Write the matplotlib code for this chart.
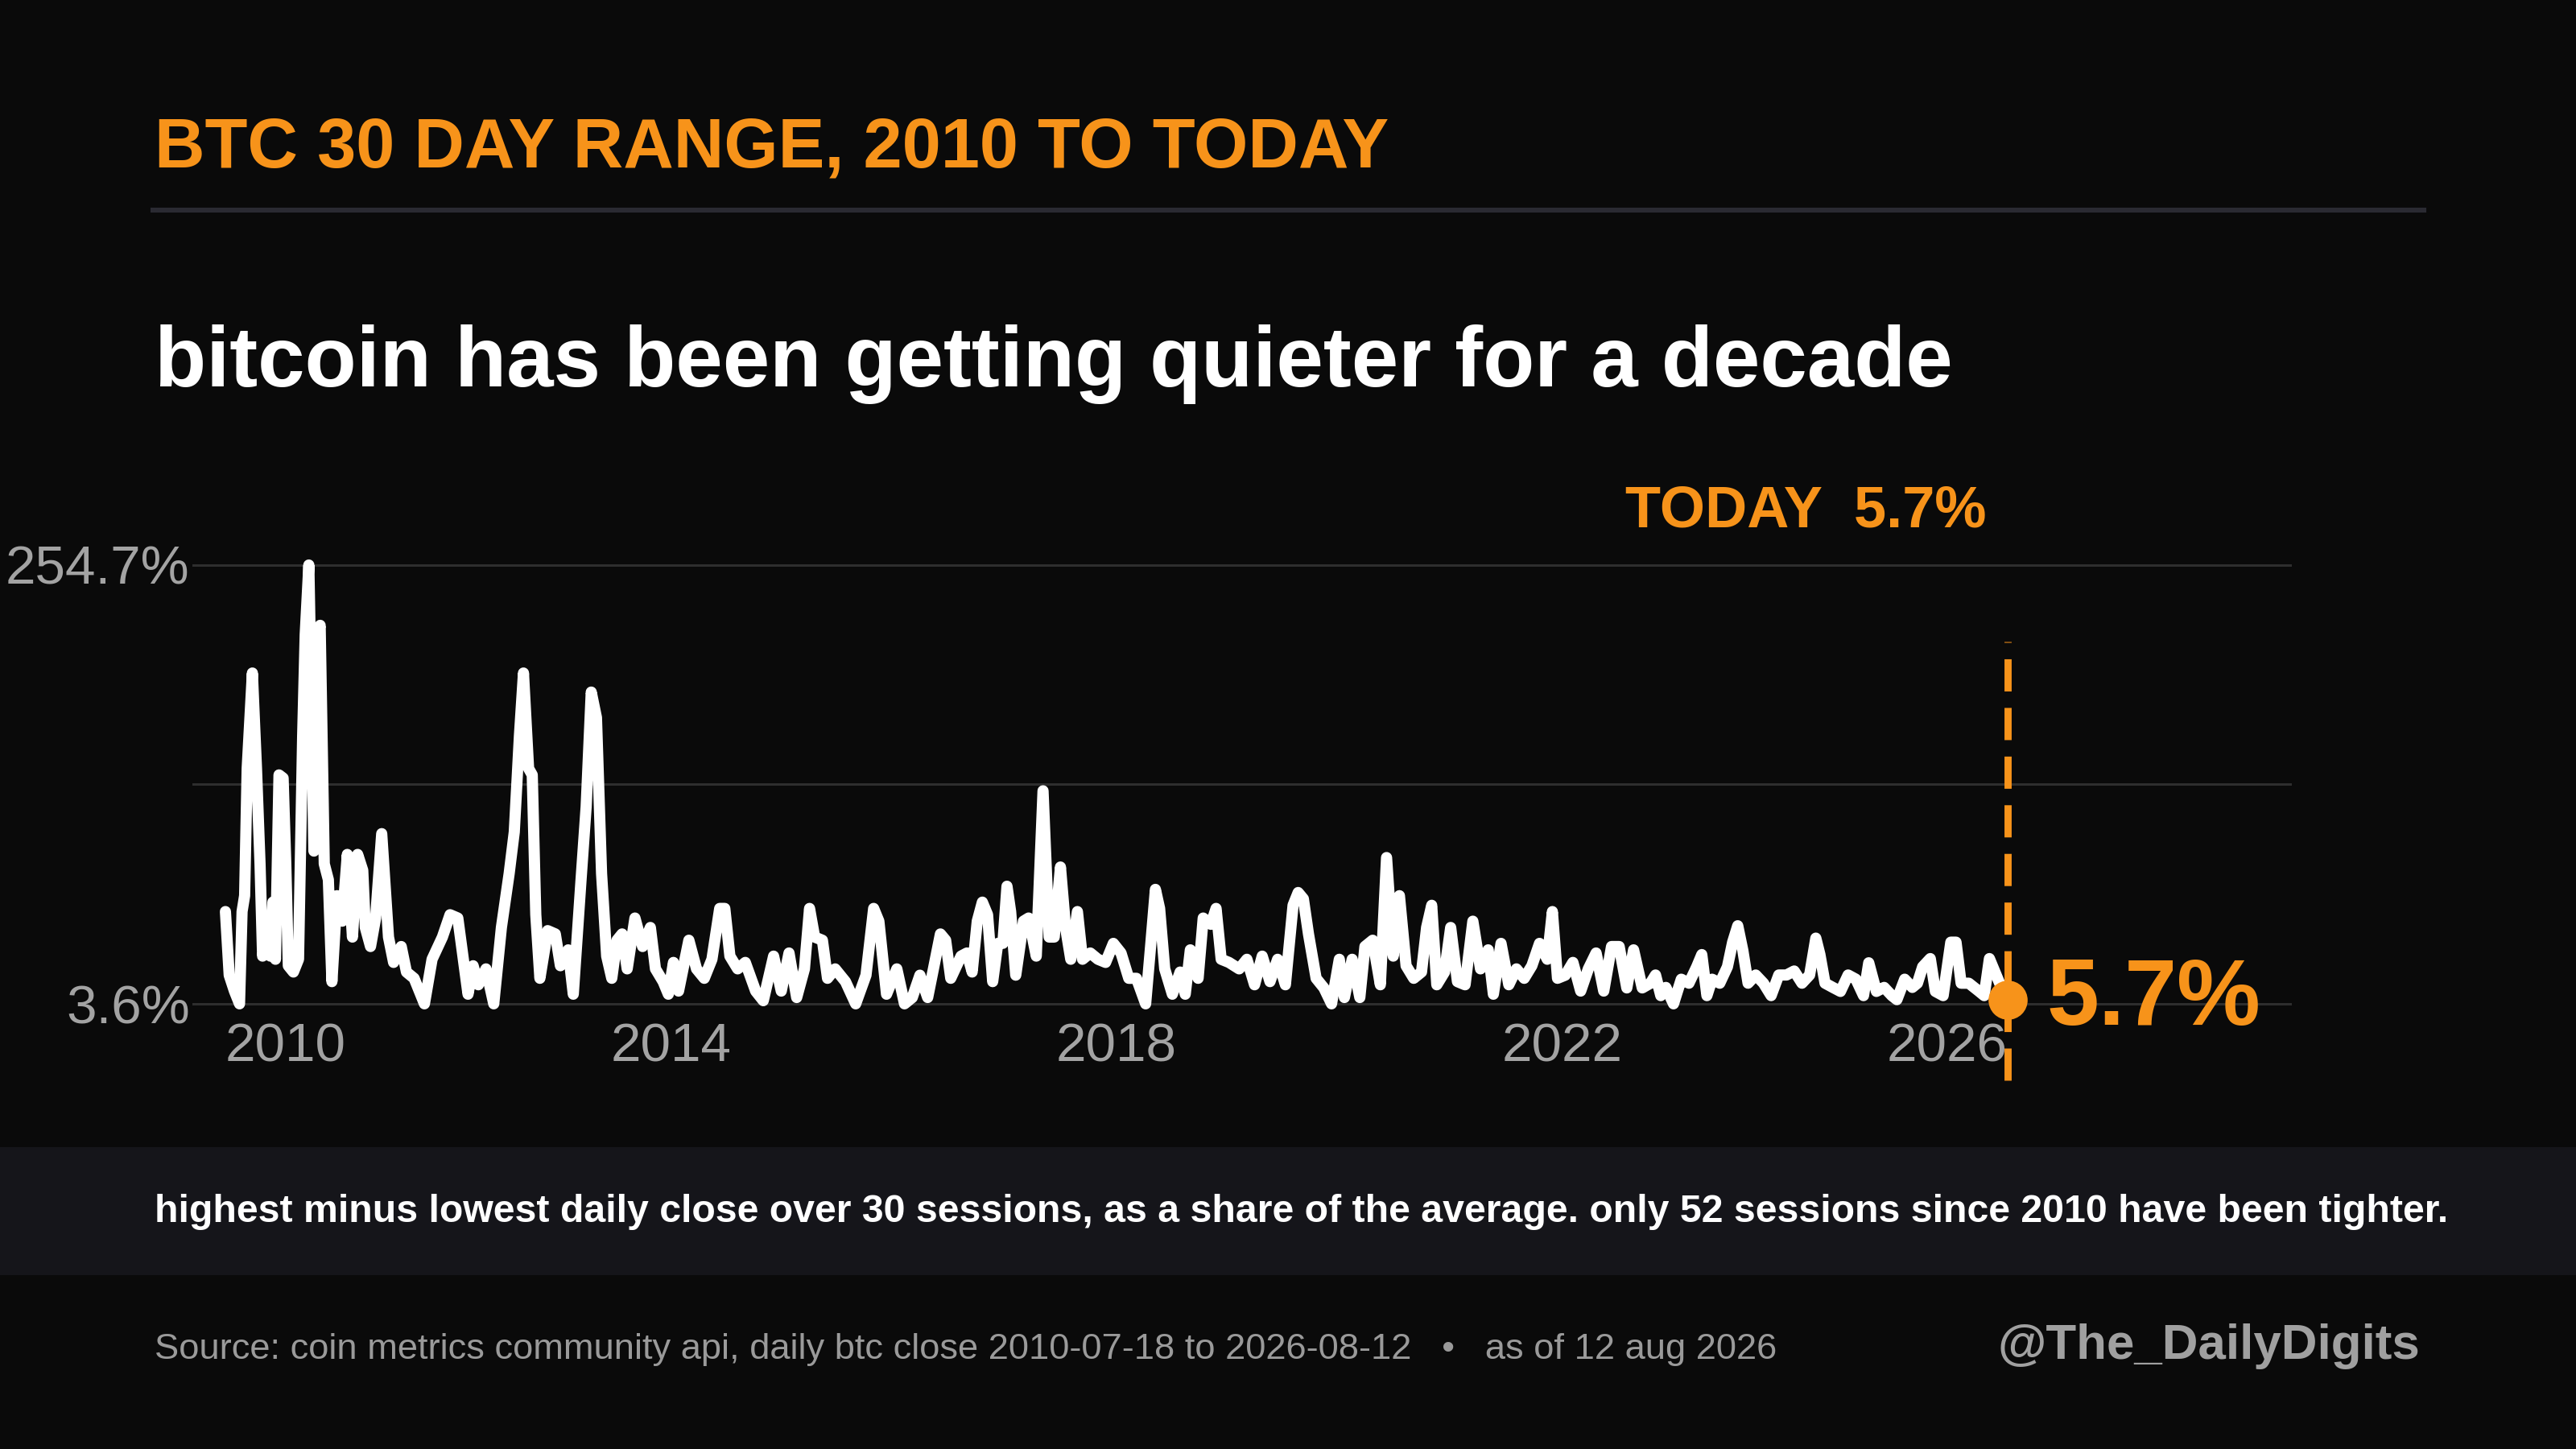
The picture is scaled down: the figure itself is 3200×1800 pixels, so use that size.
import numpy as np
import matplotlib
matplotlib.use("Agg")
import matplotlib.pyplot as plt
from matplotlib.patches import Rectangle

plt.rcParams['font.family'] = ['Liberation Sans', 'DejaVu Sans']

# 30 day range (% of average), x in decimal years
anios = [
    2010.543, 2010.577, 2010.624, 2010.670, 2010.693, 2010.716, 2010.739, 2010.786, 2010.823, 2010.855,
    2010.878, 2010.925, 2010.948, 2010.971, 2010.994, 2011.026, 2011.063, 2011.087, 2011.110, 2011.156,
    2011.202, 2011.239, 2011.262, 2011.295, 2011.318, 2011.341, 2011.364, 2011.397, 2011.434, 2011.471,
    2011.503, 2011.549, 2011.596, 2011.642, 2011.688, 2011.735, 2011.781, 2011.804, 2011.851, 2011.897,
    2011.952, 2012.013, 2012.059, 2012.128, 2012.175, 2012.244, 2012.337, 2012.406, 2012.499, 2012.568,
    2012.638, 2012.730, 2012.776, 2012.823, 2012.892, 2012.962, 2013.031, 2013.101, 2013.147, 2013.193,
    2013.230, 2013.276, 2013.309, 2013.341, 2013.378, 2013.448, 2013.517, 2013.563, 2013.633, 2013.679,
    2013.749, 2013.795, 2013.841, 2013.888, 2013.934, 2013.980, 2014.026, 2014.073, 2014.119, 2014.165,
    2014.235, 2014.304, 2014.374, 2014.420, 2014.489, 2014.536, 2014.582, 2014.628, 2014.721, 2014.790,
    2014.860, 2014.929, 2014.999, 2015.045, 2015.091, 2015.161, 2015.230, 2015.323, 2015.392, 2015.485,
    2015.554, 2015.624, 2015.693, 2015.763, 2015.809, 2015.855, 2015.925, 2015.971, 2016.040, 2016.133,
    2016.225, 2016.318, 2016.387, 2016.434, 2016.503, 2016.596, 2016.665, 2016.735, 2016.804, 2016.874,
    2016.920, 2016.989, 2017.036, 2017.082, 2017.175,
    2017.228, 2017.275, 2017.321, 2017.367, 2017.414, 2017.460, 2017.506, 2017.552, 2017.589, 2017.622,
    2017.668, 2017.738, 2017.784, 2017.853, 2017.914, 2017.969, 2018.015, 2018.071, 2018.117, 2018.164,
    2018.224, 2018.270, 2018.340, 2018.409, 2018.478, 2018.548, 2018.617, 2018.687, 2018.756, 2018.839,
    2018.886, 2018.927, 2018.965, 2019.011, 2019.080, 2019.150, 2019.196, 2019.242, 2019.312, 2019.358,
    2019.427, 2019.474, 2019.520, 2019.590, 2019.682, 2019.752, 2019.821, 2019.890, 2019.960, 2020.029,
    2020.099, 2020.168, 2020.214, 2020.261, 2020.307, 2020.376, 2020.446, 2020.515, 2020.585, 2020.631,
    2020.701, 2020.770, 2020.816, 2020.886, 2020.955, 2021.011, 2021.071, 2021.127, 2021.187, 2021.256,
    2021.326, 2021.372, 2021.418, 2021.464, 2021.534, 2021.589, 2021.650, 2021.719, 2021.789, 2021.858,
    2021.927, 2021.974, 2022.043, 2022.113, 2022.182, 2022.252, 2022.321, 2022.390, 2022.460, 2022.506,
    2022.552, 2022.622, 2022.691, 2022.761, 2022.830, 2022.900, 2022.969, 2023.039, 2023.108, 2023.177,
    2023.238, 2023.316,
    2023.390, 2023.436, 2023.483, 2023.529, 2023.598, 2023.668, 2023.737, 2023.807, 2023.853, 2023.899,
    2023.946, 2024.015, 2024.084, 2024.131, 2024.177, 2024.223, 2024.270, 2024.339, 2024.409, 2024.478,
    2024.547, 2024.617, 2024.686, 2024.756, 2024.825, 2024.881, 2024.918, 2024.964, 2025.034, 2025.103,
    2025.172, 2025.242, 2025.311, 2025.358, 2025.427, 2025.497, 2025.566, 2025.612, 2025.682, 2025.751,
    2025.797, 2025.844, 2025.913, 2025.959, 2026.029, 2026.098, 2026.145, 2026.191, 2026.260, 2026.353,
    2026.399, 2026.446, 2026.492, 2026.538, 2026.584, 2026.611,
]
rango_pct = [
    56.4, 20.0, 10.9, 3.6, 56.4, 65.5, 138.3, 192.9, 138.3, 83.7,
    30.9, 47.3, 30.9, 61.8, 29.1, 134.6, 132.8, 83.7, 25.4, 21.8,
    29.1, 156.5, 214.7, 254.7, 174.7, 91.0, 211.1, 220.2, 83.7, 74.6,
    16.3, 65.5, 50.9, 89.1, 41.8, 89.1, 80.0, 47.3, 36.4, 52.7,
    101.0, 41.8, 27.3, 36.4, 21.8, 18.2, 3.6, 29.1, 41.8, 54.6,
    52.7, 9.1, 25.4, 14.5, 23.6, 3.6, 47.3, 78.2, 101.9, 156.5,
    192.9, 138.3, 134.6, 54.6, 18.2, 45.5, 43.6, 25.4, 34.5, 9.1,
    74.6, 116.4, 182.0, 167.4, 78.2, 30.9, 18.2, 40.0, 43.6, 23.6,
    52.7, 36.4, 47.3, 23.6, 16.3, 9.1, 27.3, 10.9, 40.0, 23.6,
    18.2, 29.1, 58.2, 58.2, 30.9, 23.6, 27.3, 10.9, 5.4, 30.9,
    10.9, 32.7, 7.2, 23.6, 58.2, 41.8, 40.0, 18.2, 23.6, 16.3,
    3.6, 20.0, 58.2, 50.9, 9.1, 23.6, 3.6, 7.2, 20.0, 7.2,
    21.8, 43.6, 40.0, 18.2, 30.9,
    32.7, 21.8, 50.9, 61.8, 54.6, 16.3, 38.2, 38.2, 70.9, 56.4,
    20.0, 50.9, 52.7, 30.9, 125.5, 41.8, 41.8, 81.9, 47.3, 29.1,
    56.4, 29.1, 32.7, 29.1, 27.3, 38.2, 32.7, 18.2, 18.2, 3.6,
    38.2, 69.1, 58.2, 23.6, 9.1, 21.8, 9.1, 34.5, 18.2, 52.7,
    49.1, 58.2, 29.1, 27.3, 23.6, 29.1, 14.5, 30.9, 16.3, 29.1,
    14.5, 60.0, 67.3, 63.7, 43.6, 18.2, 12.7, 3.6, 29.1, 7.2,
    29.1, 7.2, 36.4, 40.0, 14.5, 87.3, 30.9, 65.5, 25.4, 18.2,
    21.8, 47.3, 60.0, 14.5, 21.8, 47.3, 16.3, 14.5, 50.9, 23.6,
    34.5, 9.1, 38.2, 14.5, 23.6, 18.2, 25.4, 38.2, 29.1, 56.4,
    18.2, 20.0, 27.3, 10.9, 23.6, 32.7, 10.9, 36.4, 36.4, 12.7,
    34.5, 12.7,
    15.4, 20.1, 8.3, 13.0, 3.6, 17.7, 15.4, 24.8, 31.8, 8.3,
    17.7, 15.4, 24.8, 38.9, 48.3, 34.2, 15.4, 20.1, 15.4, 8.3,
    20.1, 20.1, 22.4, 15.4, 20.1, 41.2, 31.8, 15.4, 13.0, 10.7,
    20.1, 17.7, 8.3, 27.1, 10.7, 13.0, 8.3, 6.0, 17.7, 13.0,
    15.4, 24.8, 29.5, 10.7, 8.3, 38.9, 38.9, 15.4, 15.4, 10.7,
    8.3, 29.5, 22.4, 15.4, 8.3, 5.7,
]

y_min = 3.6
y_max = 254.7
hoy = 5.7

naranja = '#f7931a'
fondo = '#0a0a0a'
gris = '#a3a3a3'

fig = plt.figure(figsize=(16, 9), dpi=200, facecolor=fondo)

# franja inferior con la nota
fig.patches.append(Rectangle((0, 0.12), 1, 0.0883, transform=fig.transFigure,
                             facecolor='#15151a', edgecolor='none', zorder=0))

ax = fig.add_axes([0.0747, 0.2989, 0.815, 0.3178])
ax.set_facecolor(fondo)

x = np.array(anios)
y = np.array(rango_pct)

ax.plot(x, y, color='white', linewidth=5.0, solid_joinstyle='round',
        solid_capstyle='round', zorder=3, clip_on=False)

# linea de hoy
ax.axvline(x[-1], ymin=-0.14, ymax=0.812, color=naranja, linewidth=3.2,
           dashes=(4.5, 2.3), zorder=4, clip_on=False)
ax.plot([x[-1]], [hoy], 'o', color=naranja, markersize=16.5, zorder=5, clip_on=False)
ax.annotate(f'{hoy}%', xy=(x[-1], hoy), xytext=(17.5, 0), textcoords='offset points',
            ha='left', va='center', color=naranja, fontsize=42, fontweight='bold')
ax.annotate(f'TODAY  {hoy}%', xy=(x[-1], 1.0), xycoords=('data', 'axes fraction'),
            xytext=(-9.4, 19.6), textcoords='offset points', ha='right', va='center',
            color=naranja, fontsize=26, fontweight='bold')

ax.set_xlim(x[0] - 41 / 137.8, x[-1] + 353 / 137.8)
ax.set_ylim(-3.3, 260.2)

medio = (y_min + y_max) / 2
ax.set_yticks([y_min, medio, y_max])
ax.set_yticklabels([f'{y_min}%', '', f'{y_max}%'])
ax.yaxis.grid(True, color='#2e2e2e', linewidth=1.1)
ax.set_axisbelow(True)

pos_x = np.linspace(x[0], x[-1], 5)
ax.set_xticks(pos_x)
ax.set_xticklabels([str(int(p)) for p in pos_x])
etiquetas = ax.get_xticklabels()
etiquetas[0].set_ha('left')
etiquetas[-1].set_ha('right')

ax.tick_params(axis='both', length=0, colors=gris, labelsize=24.3)
ax.tick_params(axis='y', pad=1.2)
ax.tick_params(axis='x', pad=3.2)
for s in ax.spines.values():
    s.set_visible(False)

# textos
fig.text(0.06, 0.8845, 'BTC 30 DAY RANGE, 2010 TO TODAY', color=naranja,
         fontsize=31.2, fontweight='bold', va='baseline')
fig.add_artist(plt.Line2D([0.0594, 0.941], [0.855, 0.855], color='#2a2a32', linewidth=2.2))
fig.text(0.06, 0.7333, 'bitcoin has been getting quieter for a decade', color='white',
         fontsize=37.8, fontweight='bold', va='baseline')
fig.text(0.06, 0.1567,
         'highest minus lowest daily close over 30 sessions, as a share of the average. '
         'only 52 sessions since 2010 have been tighter.',
         color='white', fontsize=17.4, fontweight='bold', va='baseline')
fig.text(0.06, 0.0622,
         'Source: coin metrics community api, daily btc close 2010-07-18 to 2026-08-12   \u2022   as of 12 aug 2026',
         color='#9a9a9a', fontsize=16.3, va='baseline')
fig.text(0.9394, 0.0622, '@The_DailyDigits', color='#a0a0a0', fontsize=22.3,
         fontweight='bold', ha='right', va='baseline')

fig.savefig('out.png', dpi=200, facecolor=fondo)
